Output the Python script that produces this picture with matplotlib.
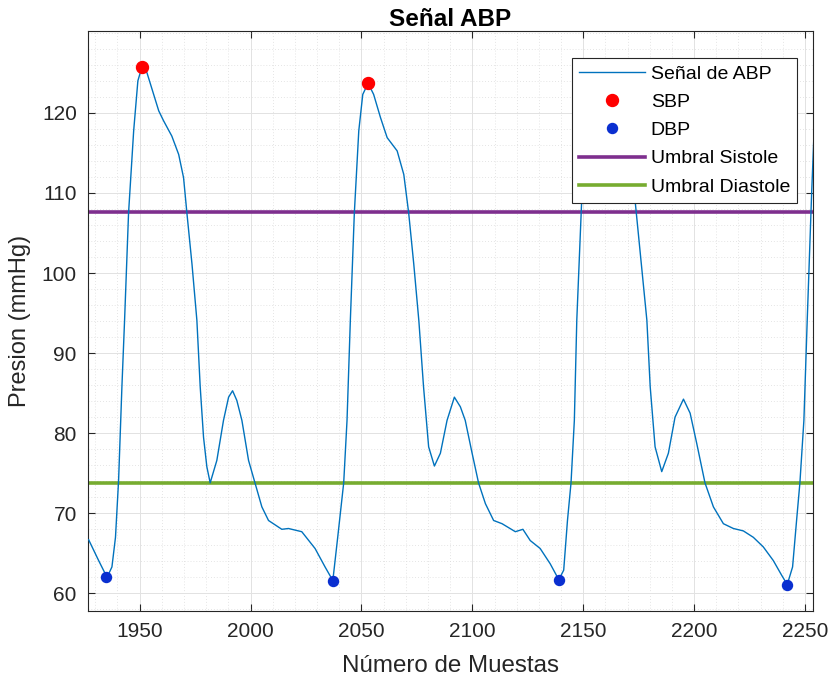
import matplotlib
matplotlib.use("Agg")
import matplotlib.pyplot as plt
from matplotlib.ticker import MultipleLocator

plt.rcParams['font.family'] = ['Liberation Sans', 'DejaVu Sans']

# ABP trace (sample index, mmHg)
muestras = [1927.0, 1931.5, 1935.3, 1937.5, 1939.1, 1940.5, 1942.0, 1943.2, 1945.0, 1947.3,
            1949.2, 1951.0, 1953.3, 1958.6, 1960.8, 1964.5, 1967.6, 1969.8, 1971.3, 1973.6,
            1975.8, 1977.3, 1978.8, 1980.3, 1981.8, 1984.8, 1987.8, 1990.1, 1991.9, 1993.8,
            1996.1, 1999.1, 2002.1, 2005.1, 2008.1, 2014.1, 2017.1, 2023.1, 2029.1, 2033.6,
            2037.1, 2039.3, 2042.0, 2043.5, 2045.0, 2046.8, 2048.8, 2050.6, 2053.0, 2055.5,
            2058.6, 2061.6, 2066.1, 2069.1, 2071.3, 2073.6, 2075.9, 2078.0, 2080.3, 2082.9,
            2085.6, 2088.6, 2091.9, 2094.6, 2096.8, 2099.9, 2102.8, 2105.9, 2109.6, 2113.4,
            2119.4, 2122.8, 2126.1, 2130.6, 2135.1, 2139.0, 2141.2, 2142.9, 2144.5, 2146.0,
            2147.1, 2149.3, 2151.5, 2153.5, 2155.0, 2157.5, 2160.5, 2163.5, 2168.0, 2171.0,
            2173.4, 2178.7, 2180.2, 2182.4, 2185.4, 2188.4, 2191.4, 2195.2, 2198.2, 2201.2,
            2204.9, 2208.7, 2213.2, 2217.7, 2222.2, 2226.7, 2231.2, 2235.7, 2239.5, 2242.0,
            2244.4, 2246.2, 2247.7, 2249.5, 2251.0, 2253.0, 2254.0]
presion = [66.7, 64.1, 62.0, 63.3, 67.0, 74.1, 85.8, 94.1, 107.5, 117.75,
           124.0, 125.7, 125.0, 120.25, 119.0, 117.1, 114.8, 111.9, 107.5, 101.1,
           94.1, 85.8, 79.5, 75.8, 73.8, 76.6, 81.6, 84.5, 85.3, 84.1,
           81.6, 76.6, 73.7, 70.8, 69.1, 68.0, 68.1, 67.7, 65.6, 63.3,
           61.6, 67.0, 73.8, 81.6, 94.1, 107.5, 117.75, 122.3, 123.7, 122.3,
           119.4, 116.9, 115.25, 112.3, 107.5, 101.1, 94.0, 85.8, 78.3, 75.9,
           77.5, 81.6, 84.5, 83.3, 81.6, 77.5, 73.8, 71.2, 69.1, 68.7,
           67.7, 68.0, 66.6, 65.6, 63.7, 61.7, 62.9, 69.1, 73.8, 81.6,
           94.1, 109.0, 119.0, 123.5, 124.6, 123.8, 120.0, 117.5, 115.0, 112.0,
           109.0, 94.1, 85.8, 78.3, 75.2, 77.5, 82.0, 84.25, 82.5, 78.7,
           73.8, 70.8, 68.7, 68.1, 67.8, 67.0, 65.8, 64.1, 62.25, 61.1,
           63.3, 69.1, 73.8, 81.6, 94.1, 110.0, 117.0]

sbp_x = [1951, 2053, 2155]
sbp_y = [125.7, 123.7, 124.6]
dbp_x = [1935, 2037, 2139, 2242]
dbp_y = [62.0, 61.6, 61.7, 61.1]

umbral_sistole = 107.6
umbral_diastole = 73.8

y_ticks = [60, 70, 80, 90, 100, 110, 120]

fig = plt.figure(figsize=(8.3, 6.77), dpi=100)
ax = fig.add_axes([0.106, 0.0975, 0.8735, 0.8565])

ax.plot(muestras, presion, color='#0072BD', lw=1.0, label='Señal de ABP', zorder=3)
ax.plot(sbp_x, sbp_y, 'o', color='#ff0000', ms=8.6, label='SBP', zorder=4)
ax.plot(dbp_x, dbp_y, 'o', color='#0a2fd0', ms=7.2, label='DBP', zorder=4)
ax.axhline(umbral_sistole, color='#7E2F8E', lw=2.6, label='Umbral Sistole', zorder=2)
ax.axhline(umbral_diastole, color='#77AC30', lw=2.6, label='Umbral Diastole', zorder=2)

ax.set_xlim(1926.7, 2253.6)
ax.set_ylim(57.8, 130.2)
ax.xaxis.set_major_locator(MultipleLocator(50))
ax.set_yticks(y_ticks)
ax.xaxis.set_minor_locator(MultipleLocator(10))
ax.yaxis.set_minor_locator(MultipleLocator(2))

ax.grid(True, which='major', color='#e2e2e2', lw=0.7, ls='-', zorder=0)
ax.grid(True, which='minor', color='#dcdcdc', lw=0.6, ls=(0, (1, 2.5)), zorder=0)
ax.set_axisbelow(True)

ax.tick_params(which='major', direction='in', length=5, width=0.8, top=True, right=True,
               labelsize=15, colors='#262626', pad=8)
ax.tick_params(which='minor', length=0)
for s in ax.spines.values():
    s.set_color('#262626')
    s.set_linewidth(0.8)

ax.set_title('Señal ABP', fontsize=17.5, fontweight='bold', color='black', pad=4)
ax.set_xlabel('Número de Muestas', fontsize=17.4, color='#262626', labelpad=10)
ax.set_ylabel('Presion (mmHg)', fontsize=17, color='#262626', labelpad=8)

leg = ax.legend(loc='upper right', bbox_to_anchor=(0.978, 0.9534), borderaxespad=0,
                fontsize=14, fancybox=False, framealpha=1, edgecolor='#262626',
                handlelength=3.4, handletextpad=0.3, labelspacing=0.55, borderpad=0.35)
leg.get_frame().set_linewidth(0.8)
leg.set_zorder(10)

fig.savefig('out.png', dpi=100, facecolor='white')
